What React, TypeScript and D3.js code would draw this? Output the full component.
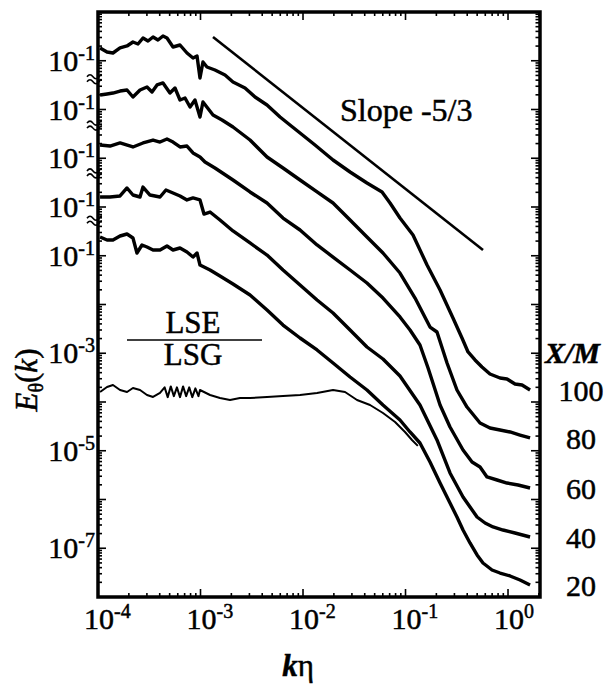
import React from 'react';
import * as d3 from 'd3';

// ---------- data (log10 values) ----------
const X_M_LABELS = ['100', '80', '60', '40', '20'];
// each spectrum is shifted up by this many decades on the plot
const DECADE_SHIFTS = [4, 3, 2, 1, 0];

// [log10(k*eta), log10(E_theta)]
const spectrumXM100: [number, number][] = [
  [-3.980,-0.738],[-3.912,-0.821],[-3.854,-0.841],[-3.785,-0.738],[-3.717,-0.697],[-3.659,-0.615],[-3.610,-0.656],[-3.561,-0.533],[-3.512,-0.595],[-3.463,-0.513],[-3.415,-0.574],[-3.366,-0.492],[-3.327,-0.533],[-3.268,-0.718],[-3.200,-0.677],[-3.132,-0.841],[-3.073,-0.944],[-3.034,-0.903],[-3.005,-1.354],[-2.976,-1.026],[-2.937,-1.128],[-2.859,-1.190],[-2.761,-1.292],[-2.683,-1.436],[-2.566,-1.559],[-2.468,-1.744],[-2.351,-1.908],[-2.224,-2.154],[-2.127,-2.318],[-2.029,-2.482],[-1.883,-2.728],[-1.707,-3.036],[-1.541,-3.282],[-1.376,-3.508],[-1.229,-3.692],[-1.151,-3.918],[-1.054,-4.226],[-0.927,-4.574],[-0.790,-5.190],[-0.663,-5.703],[-0.537,-6.277],[-0.449,-6.687],[-0.390,-6.974],[-0.322,-7.138],[-0.254,-7.282],[-0.176,-7.426],[-0.078,-7.508],[-0.010,-7.528],[0.068,-7.631],[0.137,-7.651],[0.215,-7.754],
];
const spectrumXM80: [number, number][] = [
  [-3.980,-0.703],[-3.912,-0.682],[-3.854,-0.662],[-3.785,-0.621],[-3.717,-0.600],[-3.659,-0.744],[-3.590,-0.600],[-3.522,-0.538],[-3.473,-0.641],[-3.424,-0.497],[-3.366,-0.456],[-3.298,-0.662],[-3.249,-0.559],[-3.200,-0.805],[-3.151,-0.764],[-3.102,-0.949],[-3.054,-0.805],[-3.005,-1.154],[-2.976,-0.846],[-2.878,-1.113],[-2.790,-1.215],[-2.683,-1.359],[-2.517,-1.626],[-2.351,-1.974],[-2.195,-2.200],[-2.029,-2.446],[-1.863,-2.692],[-1.707,-2.918],[-1.541,-3.267],[-1.376,-3.615],[-1.220,-3.944],[-1.054,-4.354],[-0.907,-4.867],[-0.761,-5.462],[-0.693,-5.564],[-0.595,-6.200],[-0.498,-6.754],[-0.400,-7.103],[-0.273,-7.431],[-0.176,-7.533],[-0.078,-7.574],[0.020,-7.615],[0.117,-7.677],[0.215,-7.738],
];
const spectrumXM60: [number, number][] = [
  [-3.980,-0.728],[-3.883,-0.749],[-3.785,-0.687],[-3.659,-0.769],[-3.561,-0.687],[-3.463,-0.626],[-3.395,-0.667],[-3.327,-0.605],[-3.268,-0.667],[-3.200,-0.769],[-3.132,-0.749],[-3.073,-0.892],[-3.005,-0.974],[-2.956,-1.077],[-2.859,-1.200],[-2.683,-1.446],[-2.517,-1.692],[-2.351,-1.918],[-2.195,-2.226],[-2.029,-2.472],[-1.863,-2.779],[-1.707,-3.026],[-1.541,-3.292],[-1.376,-3.559],[-1.220,-3.867],[-1.054,-4.256],[-0.956,-4.523],[-0.859,-4.831],[-0.780,-5.303],[-0.663,-6.062],[-0.566,-6.513],[-0.439,-6.985],[-0.351,-7.231],[-0.273,-7.333],[-0.205,-7.538],[-0.107,-7.600],[-0.010,-7.662],[0.098,-7.703],[0.215,-7.764],
];
const spectrumXM40: [number, number][] = [
  [-3.980,-0.795],[-3.883,-0.795],[-3.785,-0.774],[-3.717,-0.610],[-3.659,-0.754],[-3.590,-0.795],[-3.561,-0.590],[-3.493,-0.754],[-3.395,-0.795],[-3.337,-0.651],[-3.268,-0.713],[-3.200,-0.774],[-3.132,-0.856],[-3.073,-0.815],[-3.005,-0.856],[-2.966,-1.144],[-2.907,-1.103],[-2.810,-1.267],[-2.683,-1.492],[-2.517,-1.738],[-2.351,-1.985],[-2.195,-2.292],[-2.029,-2.600],[-1.863,-2.908],[-1.707,-3.174],[-1.541,-3.523],[-1.376,-3.872],[-1.220,-4.118],[-1.054,-4.467],[-0.859,-5.062],[-0.693,-5.779],[-0.566,-6.456],[-0.439,-6.949],[-0.302,-7.359],[-0.224,-7.482],[-0.146,-7.564],[-0.049,-7.626],[0.068,-7.687],[0.215,-7.769],
];
const spectrumXM20: [number, number][] = [
  [-3.980,-0.615],[-3.912,-0.677],[-3.854,-0.677],[-3.785,-0.595],[-3.717,-0.554],[-3.659,-0.636],[-3.620,-0.944],[-3.571,-0.779],[-3.522,-0.821],[-3.463,-0.882],[-3.395,-0.882],[-3.327,-0.800],[-3.268,-0.882],[-3.200,-0.841],[-3.132,-0.923],[-3.073,-1.026],[-3.034,-0.944],[-3.005,-1.190],[-2.907,-1.292],[-2.810,-1.415],[-2.683,-1.579],[-2.517,-1.805],[-2.351,-2.113],[-2.195,-2.421],[-2.029,-2.687],[-1.863,-2.933],[-1.707,-3.200],[-1.541,-3.487],[-1.376,-3.754],[-1.220,-4.062],[-1.054,-4.369],[-0.956,-4.615],[-0.859,-4.841],[-0.761,-5.231],[-0.663,-5.662],[-0.566,-6.072],[-0.498,-6.359],[-0.439,-6.626],[-0.371,-6.892],[-0.302,-7.138],[-0.244,-7.303],[-0.156,-7.446],[-0.078,-7.508],[0.020,-7.569],[0.117,-7.651],[0.215,-7.754],
];
const SPECTRA = [spectrumXM100, spectrumXM80, spectrumXM60, spectrumXM40, spectrumXM20];

// LSE/LSG curve (thin line)
const lseOverLsg: [number, number][] = [
  [-3.980,-3.795],[-3.912,-3.692],[-3.854,-3.651],[-3.785,-3.754],[-3.717,-3.795],[-3.659,-3.713],[-3.590,-3.754],[-3.522,-3.856],[-3.463,-3.897],[-3.395,-3.815],[-3.350,-3.700],[-3.320,-3.900],[-3.290,-3.680],[-3.260,-3.880],[-3.230,-3.700],[-3.200,-3.900],[-3.170,-3.680],[-3.140,-3.880],[-3.110,-3.700],[-3.080,-3.900],[-3.050,-3.720],[-3.020,-3.880],[-3.005,-3.754],[-2.907,-3.856],[-2.810,-3.918],[-2.712,-3.959],[-2.615,-3.918],[-2.517,-3.918],[-2.351,-3.897],[-2.195,-3.877],[-2.029,-3.856],[-1.863,-3.815],[-1.707,-3.754],[-1.590,-3.795],[-1.473,-3.959],[-1.346,-4.062],[-1.220,-4.226],[-1.102,-4.410],[-1.005,-4.615],[-0.937,-4.779],[-0.880,-4.900],
];

// -5/3 reference line, plotted coordinates
const slopeLine: [number, number][] = [[-2.878, 3.487], [-0.244, -0.882]];

const X_TICK_EXPONENTS = [-4, -3, -2, -1, 0];
const Y_LABEL_DECADES = [3, 2, 1, 0, -1, -3, -5, -7];
const Y_LABEL_EXPONENTS = ['-1', '-1', '-1', '-1', '-1', '-3', '-5', '-7'];
const AXIS_BREAKS = [2.65, 1.70, 0.72, -0.25];

// ---------- layout ----------
const W = 607, H = 686;
const L = 98, R = 540, T = 12, B = 597;
const FONT = "'Liberation Serif', 'Times New Roman', Times, 'DejaVu Serif', serif";

export default function App() {
  const x = d3.scaleLog().domain([1e-4, Math.pow(10, 0.312)]).range([L, R]);
  const y = d3.scaleLog().domain([1e-8, 1e4]).range([B, T]);
  const line = (shift: number) =>
    d3.line<[number, number]>()
      .x(d => x(Math.pow(10, d[0])))
      .y(d => y(Math.pow(10, d[1] + shift)));

  const yTicks: { v: number; major: boolean }[] = [];
  for (let e = -8; e < 4; e++) {
    for (let m = 1; m < 10; m++) yTicks.push({ v: m * Math.pow(10, e), major: m === 1 });
  }
  yTicks.push({ v: 1e4, major: true });
  const xTicks: { v: number; major: boolean }[] = [];
  for (let e = -4; e <= 0; e++) {
    for (let m = 1; m < 10; m++) {
      const v = m * Math.pow(10, e);
      if (v <= Math.pow(10, 0.312)) xTicks.push({ v, major: m === 1 });
    }
  }
  const txt: any = { style: { fontFamily: FONT }, fill: '#000', stroke: '#000', strokeWidth: 0.5 };

  return (
    <svg width={W} height={H} style={{ position: 'absolute', left: 0, top: 0, background: '#fff' }}>
      <rect x={0} y={0} width={W} height={H} fill="#fff" />
      <g stroke="#000" strokeWidth={1.6}>
        {yTicks.map((t, i) => (
          <g key={'y' + i}>
            <line x1={L} x2={L + (t.major ? 8 : 4)} y1={y(t.v)} y2={y(t.v)} />
            <line x1={R} x2={R - (t.major ? 9 : 4.5)} y1={y(t.v)} y2={y(t.v)} />
          </g>
        ))}
        {xTicks.map((t, i) => (
          <g key={'x' + i}>
            <line y1={B} y2={B - (t.major ? 8 : 4)} x1={x(t.v)} x2={x(t.v)} />
            <line y1={T} y2={T + (t.major ? 8 : 4)} x1={x(t.v)} x2={x(t.v)} />
          </g>
        ))}
      </g>
      <rect x={L} y={T} width={R - L} height={B - T} fill="none" stroke="#000" strokeWidth={3.5} />

      {AXIS_BREAKS.map((b, i) => {
        const yy = y(Math.pow(10, b));
        const wave = (dy: number) => `M${L - 11},${yy + dy + 1.5} q3,-4 6,0 t6,0 t2,-1`;
        return (
          <g key={'br' + i} fill="none" stroke="#000" strokeWidth={1.6}>
            <path d={wave(-2.5)} />
            <path d={wave(2.5)} />
          </g>
        );
      })}

      <path d={line(0)(slopeLine) || ''} fill="none" stroke="#000" strokeWidth={2.6} />

      {SPECTRA.map((s, i) => (
        <path key={'s' + i} d={line(DECADE_SHIFTS[i])(s) || ''} fill="none" stroke="#000"
          strokeWidth={3.4} strokeLinejoin="round" />
      ))}
      <path d={line(0)(lseOverLsg) || ''} fill="none" stroke="#000" strokeWidth={2} strokeLinejoin="round" />

      {Y_LABEL_DECADES.map((d, i) => (
        <text key={'yl' + i} x={95} y={y(Math.pow(10, d)) + 10} textAnchor="end" fontSize={30} {...txt}>
          10<tspan fontSize={20} dy={-11}>{Y_LABEL_EXPONENTS[i]}</tspan>
        </text>
      ))}
      {X_TICK_EXPONENTS.map((e, i) => (
        <text key={'xl' + i} x={x(Math.pow(10, e)) - 14} y={629} fontSize={30} {...txt}>
          10<tspan fontSize={20} dy={-11}>{String(e)}</tspan>
        </text>
      ))}

      <text transform="translate(37,380) rotate(-90)" textAnchor="middle" fontSize={31} {...txt}>
        <tspan fontStyle="italic">E</tspan>
        <tspan fontSize={20} dy={6}>θ</tspan>
        <tspan dy={-6}>(</tspan>
        <tspan fontStyle="italic">k</tspan>)
      </text>
      <text x={298} y={676} textAnchor="middle" fontSize={31} {...txt}>
        <tspan fontStyle="italic" fontWeight="bold">k</tspan>η
      </text>

      <text x={340} y={121} fontSize={32} {...txt}>Slope -5/3</text>
      <text x={193} y={333} textAnchor="middle" fontSize={31} {...txt}>LSE</text>
      <line x1={127} x2={262} y1={340} y2={340} stroke="#000" strokeWidth={1.6} />
      <text x={193} y={365} textAnchor="middle" fontSize={31} {...txt}>LSG</text>

      <text x={545} y={363} fontSize={30} fontStyle="italic" fontWeight="bold" {...txt}>X/M</text>
      {SPECTRA.map((s, i) => {
        const last = s[s.length - 1];
        return (
          <text key={'xm' + i} x={581} y={y(Math.pow(10, last[1] + DECADE_SHIFTS[i])) + 11}
            textAnchor="middle" fontSize={30} {...txt}>{X_M_LABELS[i]}</text>
        );
      })}
    </svg>
  );
}
